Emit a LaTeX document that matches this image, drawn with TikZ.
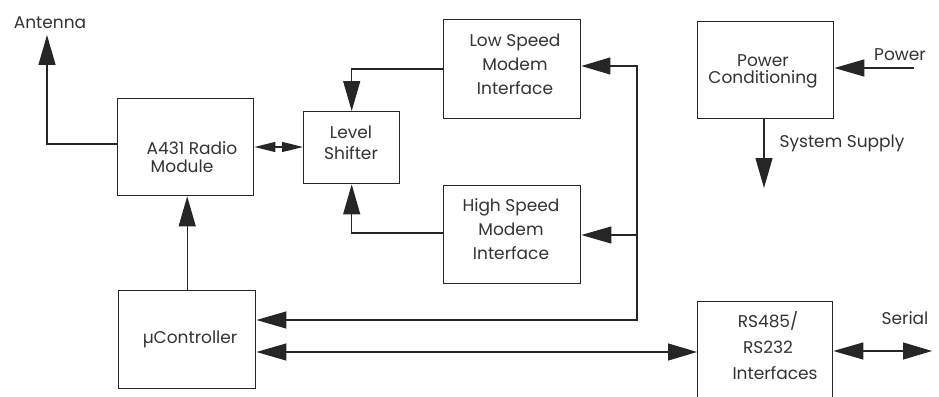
\documentclass[tikz,border=0pt]{standalone}
\usepackage{fontspec}
\setmainfont{Poppins}
\usetikzlibrary{arrows.meta}
\tikzset{
  blk/.style={draw=black!85, line width=1.4pt, rectangle, inner sep=0pt, anchor=north west},
  lbl/.style={font=\fontsize{17}{20}\selectfont, text=black!80, inner sep=0pt, align=center},
  wire/.style={line width=1.2pt, draw=black!85},
  bigtip/.style={-{Triangle[length=30pt,width=17pt]}},
  smalltip/.style={{Triangle[length=21pt,width=10pt]}-{Triangle[length=21pt,width=10pt]}},
  dbltip/.style={{Triangle[length=30pt,width=17pt]}-{Triangle[length=29pt,width=17pt]}},
}
\begin{document}
\begin{tikzpicture}[x=1pt,y=-1pt]
\useasboundingbox[fill=white] (0,0) rectangle (939,396);

% blocks
\node[blk, minimum width=136pt, minimum height=97pt] (radio) at (117,98) {};
\node[blk, minimum width=96pt, minimum height=72pt] (level) at (303,111) {};
\node[blk, minimum width=137pt, minimum height=99pt] (low) at (443,19) {};
\node[blk, minimum width=137pt, minimum height=98pt] (high) at (443,185) {};
\node[blk, minimum width=137pt, minimum height=98pt] (mcu) at (118,290) {};
\node[blk, minimum width=136pt, minimum height=97pt] (power) at (697,21) {};
\node[blk, minimum width=135pt, minimum height=110pt] (rs) at (697,301) {};

% block texts
\node[lbl, align=left] (radiot) at (192,157) {A431 Radio\\[-2pt]\hspace*{4pt}Module};
\node[lbl, font=\fontsize{17}{21}\selectfont] (levelt) at (351,143) {Level\\Shifter};
\node[lbl, font=\fontsize{17}{24}\selectfont] (lowt) at (515,64) {Low Speed\\Modem\\Interface};
\node[lbl, font=\fontsize{17}{24}\selectfont] (hight) at (511,229) {High Speed\\Modem\\Interface};
\node[lbl] (mcut) at (190,339) {µController};
\node[lbl, font=\fontsize{17}{17}\selectfont] (powert) at (763,71) {Power\\Conditioning};
\node[lbl, font=\fontsize{17}{26}\selectfont] (rst) at (768,346) {RS485/\\RS232\\\hspace*{14pt}Interfaces};

% free labels
\node[lbl] (antt) at (50,23) {Antenna};
\node[lbl] (powin) at (900,55) {Power};
\node[lbl] (supt) at (842,143) {System Supply};
\node[lbl] (sert) at (905,318) {Serial};

% free ends
\coordinate (ant) at (47,35);
\coordinate (pin) at (914,68);
\coordinate (sup) at (764,188);
\coordinate (ser) at (932,351);
\coordinate (bus) at (637,66);

% antenna feed
\draw[wire, bigtip] (radio.west |- 0,144) -| (ant);
% radio <-> level shifter
\draw[wire, smalltip] (radio.east |- 0,147) -- (level.west |- 0,147);
% modem interfaces into level shifter
\draw[wire, bigtip] (low.west |- 0,69) -| (level.north);
\draw[wire, bigtip] (high.west |- 0,233) -| (level.south);
% controller to radio
\draw[wire, bigtip] (mcu.north) -- (radio.south -| mcu.north);
% controller bus to modem interfaces
\draw[wire, dbltip] (mcu.east |- 0,320) -| (bus) -- (low.east |- bus);
\draw[wire, bigtip] (bus |- 0,235) -- (high.east |- 0,235);
% controller <-> serial interfaces
\draw[wire, dbltip] (mcu.east |- 0,352) -- (rs.west |- 0,352);
\draw[wire, dbltip] (rs.east |- ser) -- (ser);
% power
\draw[wire, bigtip] (pin) -- (power.east |- pin);
\draw[wire, bigtip] (power.south -| sup) -- (sup);
\end{tikzpicture}
\end{document}
